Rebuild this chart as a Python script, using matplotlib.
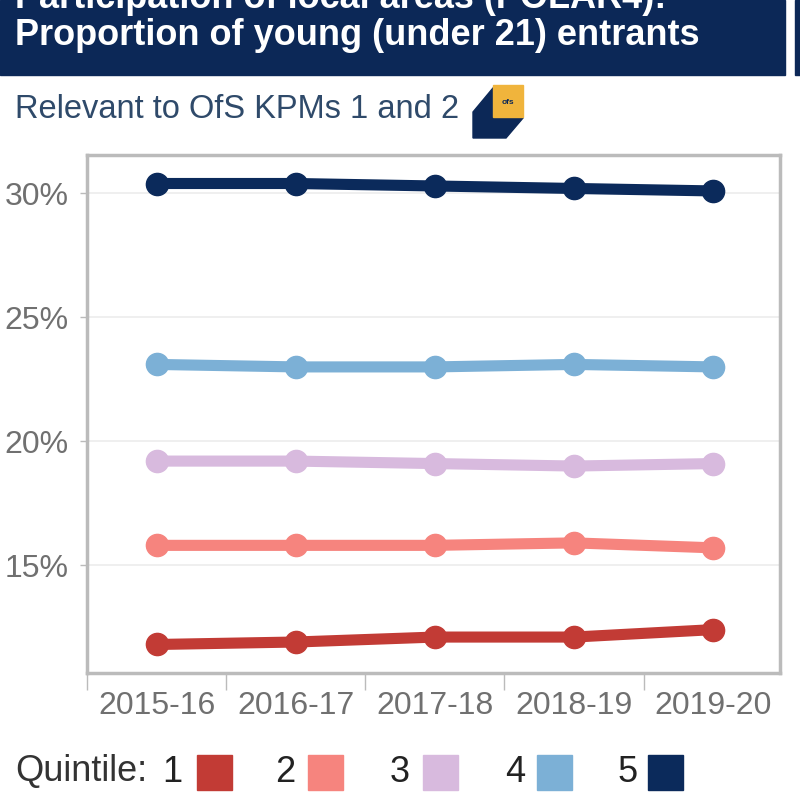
import matplotlib.pyplot as plt
from matplotlib.patches import Rectangle, Polygon

plt.rcParams['font.family'] = ['Liberation Sans Narrow', 'Liberation Sans', 'DejaVu Sans']

years = ['2015-16', '2016-17', '2017-18', '2018-19', '2019-20']
quintiles = ['1', '2', '3', '4', '5']
q1 = [11.8, 11.9, 12.1, 12.1, 12.4]
q2 = [15.8, 15.8, 15.8, 15.9, 15.7]
q3 = [19.2, 19.2, 19.1, 19.0, 19.1]
q4 = [23.1, 23.0, 23.0, 23.1, 23.0]
q5 = [30.4, 30.4, 30.3, 30.2, 30.1]
yticks = [15, 20, 25, 30]

series = [q1, q2, q3, q4, q5]
colors = ['#c23b35', '#f6847e', '#d8bade', '#7cb0d6', '#0b2a5b']
navy = '#0c2857'

W = 800.0
fig = plt.figure(figsize=(8, 8), dpi=100)


def px(x, y):
    # pixel position (from top-left) -> figure fraction
    return (x / W, 1 - y / W)


# title banner, cut off at the top like the screenshot
fig.patches.append(Rectangle(px(0, 75), 785 / W, 75 / W, transform=fig.transFigure,
                             color=navy, zorder=0))
fig.patches.append(Rectangle(px(795, 75), 10 / W, 75 / W, transform=fig.transFigure,
                             color=navy, zorder=0))
fig.text(15 / W, 1 - 8 / W, 'Participation of local areas (POLAR4):', color='white',
         fontsize=26, fontweight='bold', va='baseline', ha='left')
fig.text(15 / W, 1 - 45 / W, 'Proportion of young (under 21) entrants', color='white',
         fontsize=26, fontweight='bold', va='baseline', ha='left')
fig.text(15 / W, 1 - 110 / W, 'Relevant to OfS KPMs 1 and 2', color='#2f4a6a',
         fontsize=23.5, va='center', ha='left')

# OfS logo
fig.patches.append(Polygon([px(473, 112), px(493, 88), px(523, 88), px(523, 118),
                            px(506, 138), px(473, 138)], closed=True,
                           transform=fig.transFigure, color=navy))
fig.patches.append(Rectangle(px(493, 117), 30 / W, 32 / W, transform=fig.transFigure,
                             color='#f0b43c'))
fig.text(508 / W, 1 - 103 / W, 'ofs', fontsize=6, color=navy, ha='center', va='center',
         fontweight='bold')

# main chart
ax = fig.add_axes([87 / W, 127 / W, 693 / W, 518 / W])
x = list(range(len(years)))
for vals, c in zip(series, colors):
    ax.plot(x, vals, color=c, linewidth=8, marker='o', markersize=16,
            solid_capstyle='round', zorder=3)

ax.set_xlim(-0.47, 4.48)
ax.set_ylim(10.65, 31.55)
ax.set_yticks(yticks)
ax.set_yticklabels([f'{v}%' for v in yticks])
ax.set_xticks(x)
ax.set_xticklabels(years)
ax.set_xticks([-0.5, 0.5, 1.5, 2.5, 3.5], minor=True)
ax.grid(axis='y', color='#ececec', linewidth=1.2, zorder=0)
ax.tick_params(axis='y', length=5, width=1, color='#bbbbbb', labelsize=23,
               labelcolor='#707070', pad=8)
ax.tick_params(axis='x', which='major', length=0, labelsize=23, labelcolor='#707070', pad=13)
ax.tick_params(axis='x', which='minor', length=12, width=1, color='#bbbbbb')
for s in ax.spines.values():
    s.set_color('#bbbbbb')
    s.set_linewidth(2.5)

# legend row
fig.text(15 / W, 1 - 772 / W, 'Quintile:', fontsize=26, color='#333333', va='center', ha='left')
lab_x = [172, 285, 400, 515, 628]
box_x = [197, 308, 423, 537, 648]
for q, c, lx, bx in zip(quintiles, colors, lab_x, box_x):
    fig.text(lx / W, 1 - 772 / W, q, fontsize=26, color='#222222', va='center', ha='center')
    fig.patches.append(Rectangle(px(bx, 790), 35 / W, 35 / W, transform=fig.transFigure,
                                 color=c))

fig.savefig('out.png', dpi=100)
